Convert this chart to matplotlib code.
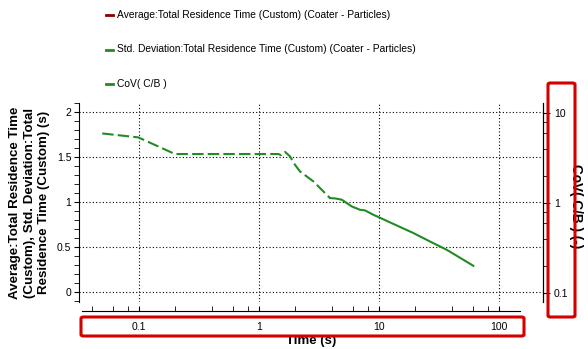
import numpy as np
import matplotlib
matplotlib.use("Agg")
import matplotlib.pyplot as plt
from matplotlib.lines import Line2D
from matplotlib.patches import FancyBboxPatch
from matplotlib.ticker import FixedLocator, NullFormatter, FuncFormatter

plt.rcParams['font.family'] = ['Liberation Sans', 'DejaVu Sans']

# residence time statistic vs. time (dashed part, then solid part)
t_dash = [0.049, 0.098, 0.198, 0.6, 1.0, 1.44, 1.52, 1.64, 1.80, 1.98, 2.18, 2.82, 3.88]
v_dash = [1.762, 1.718, 1.533, 1.533, 1.533, 1.533, 1.52, 1.556, 1.507, 1.414, 1.34, 1.229, 1.044]
t_solid = [3.88, 4.3, 4.86, 5.89, 6.9, 7.6, 8.9, 10.25, 12.6, 19.2, 26.4, 36.4, 50.1, 60.7]
v_solid = [1.044, 1.04, 1.026, 0.951, 0.914, 0.907, 0.859, 0.822, 0.767, 0.656, 0.562, 0.47, 0.359, 0.292]

legend_labels = ["Average:Total Residence Time (Custom) (Coater - Particles)",
                 "Std. Deviation:Total Residence Time (Custom) (Coater - Particles)",
                 "CoV( C/B )"]
legend_colors = ["#8b0000", "#228b22", "#228b22"]

x_major = [0.1, 1, 10, 100]
x_minor = [0.04, 0.06, 0.08, 0.2, 0.4, 0.6, 0.8, 2, 4, 6, 8, 20, 40, 60, 80]
y_major = [0, 0.5, 1, 1.5, 2]
r_major = [0.1, 1, 10]
r_minor = [0.2, 0.4, 0.6, 0.8, 2, 4, 6, 8]

green = "#228b22"
fig = plt.figure(figsize=(5.88, 3.49), dpi=100)
W, H = 588, 349
ax = fig.add_axes([79 / W, 1 - 302 / H, (543 - 79) / W, (302 - 103) / H])

ax.plot(t_dash, v_dash, color=green, lw=1.5, dashes=(5.5, 2))
ax.plot(t_solid, v_solid, color=green, lw=1.5)

ax.set_xscale('log')
ax.set_xlim(0.0314, 231)
ax.set_ylim(-0.11, 2.1)

ax.xaxis.set_major_locator(FixedLocator(x_major))
ax.xaxis.set_minor_locator(FixedLocator(x_minor))
ax.xaxis.set_major_formatter(FuncFormatter(lambda v, p: f"{v:g}"))
ax.xaxis.set_minor_formatter(NullFormatter())
ax.yaxis.set_major_locator(FixedLocator(y_major))
ax.yaxis.set_minor_locator(FixedLocator(np.arange(-0.1, 2.15, 0.1)))
ax.yaxis.set_major_formatter(FuncFormatter(lambda v, p: f"{v:g}"))

ax.spines['top'].set_visible(False)
ax.spines['bottom'].set_position(('outward', 6.3))
ax.spines['bottom'].set_bounds(0.033, 150)
ax.tick_params(axis='x', which='both', direction='in', length=3.5, labelsize=7.5, pad=8)
ax.tick_params(axis='y', which='both', direction='out', length=3.5, labelsize=7.5, pad=2)
ax.grid(True, which='major', color='black', linestyle=(0, (1, 2)), lw=0.8)

ax.set_xlabel("Time (s)", fontsize=9.5, fontweight='bold', labelpad=2.2)
ax.set_ylabel("Average:Total Residence Time\n(Custom), Std. Deviation:Total\nResidence Time (Custom) (s)",
              fontsize=9.6, fontweight='bold', labelpad=5, linespacing=1.25)

# secondary log axis for CoV
ax2 = ax.twinx()
ax2.set_yscale('log')
ax2.set_ylim(0.08, 13.0)
ax2.yaxis.set_major_locator(FixedLocator(r_major))
ax2.yaxis.set_minor_locator(FixedLocator(r_minor))
ax2.yaxis.set_major_formatter(FuncFormatter(lambda v, p: f"{v:g}"))
ax2.yaxis.set_minor_formatter(NullFormatter())
ax2.spines['top'].set_visible(False)
ax2.spines['bottom'].set_visible(False)
ax2.spines['left'].set_visible(False)
ax2.tick_params(axis='y', which='major', direction='out', length=5, labelsize=7.5, pad=3)
ax2.tick_params(axis='y', which='minor', direction='out', length=3.5)
ax2.set_ylabel("CoV( C/B ) (-)", fontsize=9.8, fontweight='bold', rotation=-90, labelpad=10)
ax2.yaxis.set_label_coords(1.087, 0.48)

# legend drawn as stacked rows above the plot
for i, (lab, col) in enumerate(zip(legend_labels, legend_colors)):
    yy = 1 - (15 + 34.5 * i) / H
    fig.add_artist(Line2D([106 / W, 113 / W], [yy, yy], color=col, lw=2, transform=fig.transFigure))
    fig.text(117 / W, yy, lab, fontsize=7.4, va='center', ha='left')

# red highlight boxes
for x0, y0, x1, y1 in [(81, 317, 524, 336), (548, 83, 575, 317)]:
    fig.add_artist(FancyBboxPatch((x0 / W, 1 - y1 / H), (x1 - x0) / W, (y1 - y0) / H,
                                  boxstyle="round,pad=0,rounding_size=0.004",
                                  transform=fig.transFigure, fill=False,
                                  edgecolor='#d40000', lw=2.2))

fig.savefig("out.png", dpi=100)
